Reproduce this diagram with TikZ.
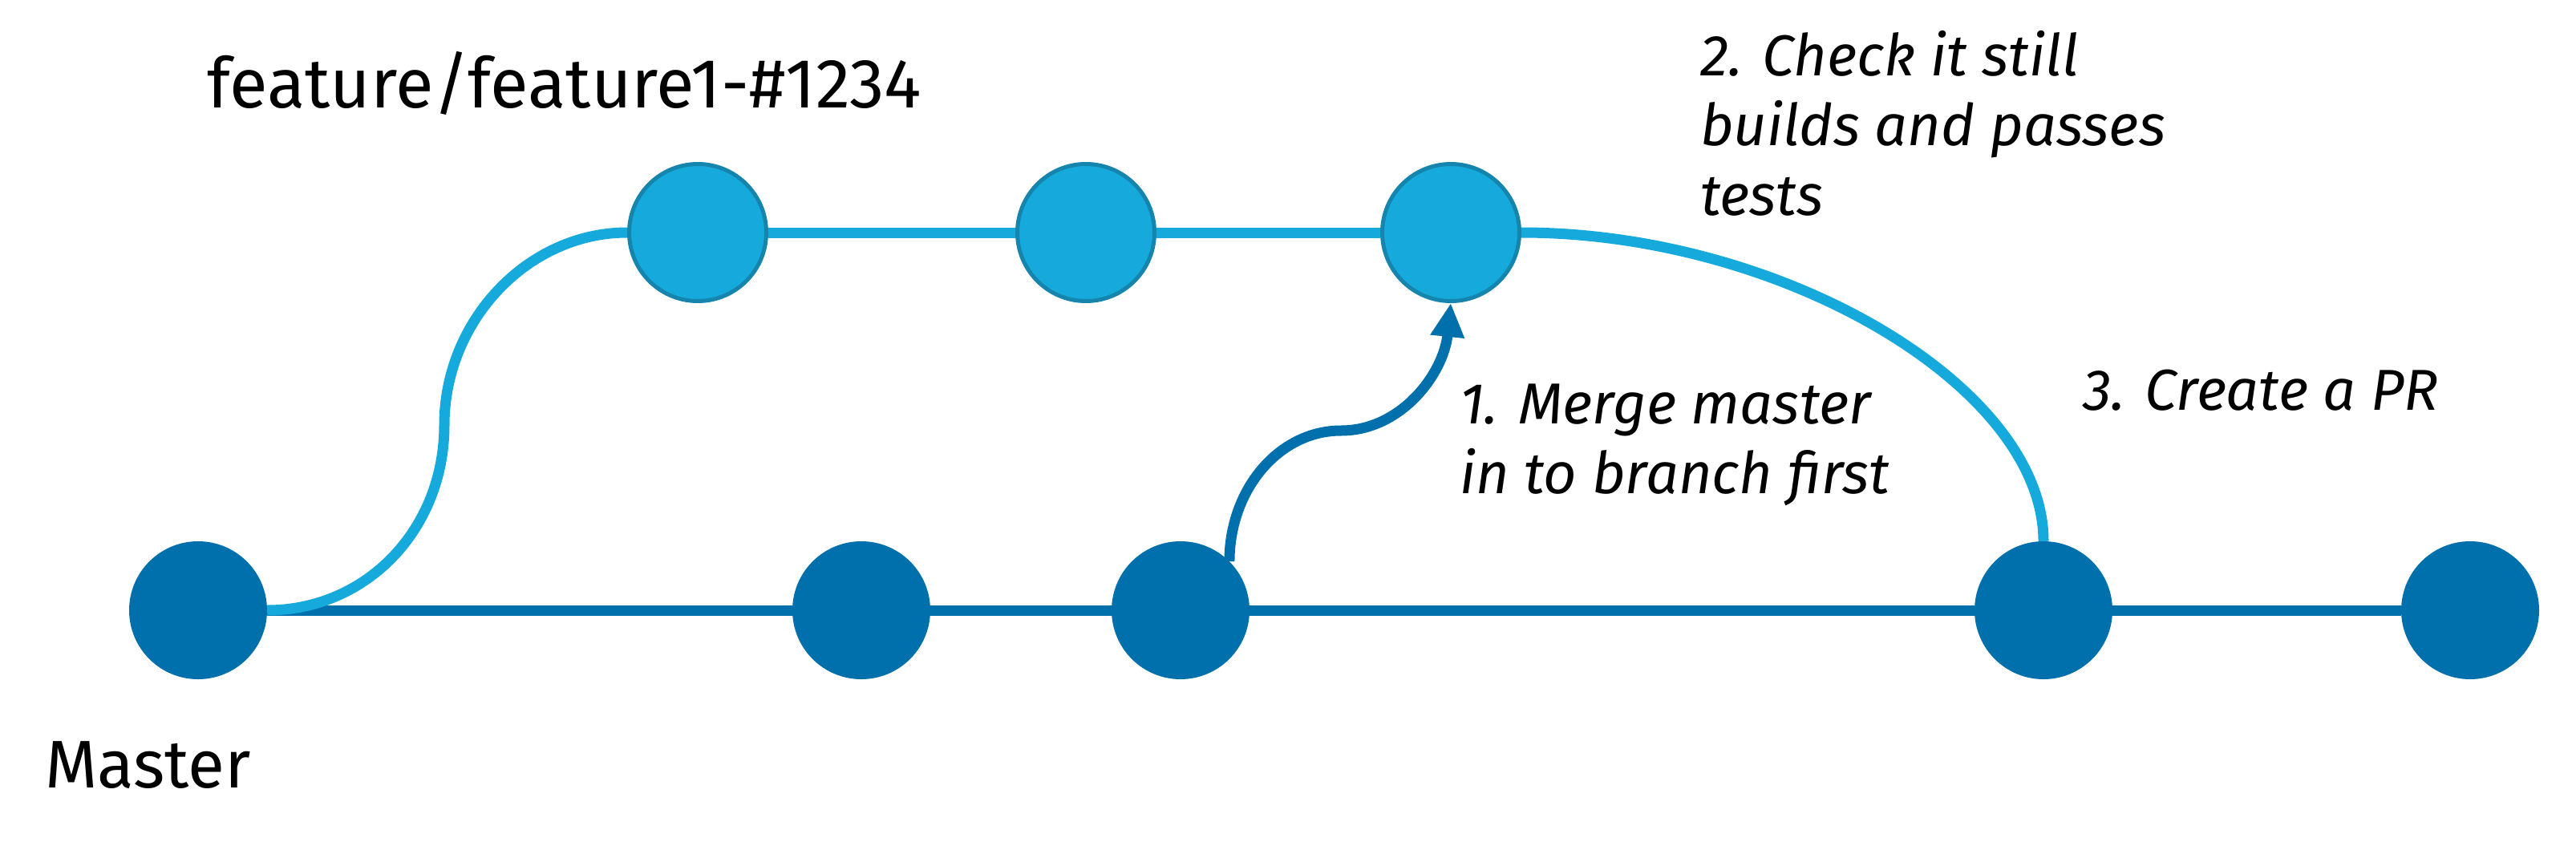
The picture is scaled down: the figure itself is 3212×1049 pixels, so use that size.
\documentclass[tikz,border=0pt]{standalone}
\usepackage{fontspec}
\setmainfont{Fira Sans}
\usetikzlibrary{arrows.meta}
\definecolor{masterblue}{HTML}{0070AD}
\definecolor{featblue}{HTML}{15AADB}
\definecolor{featedge}{HTML}{1585AE}
\pgfdeclarelayer{background}
\pgfsetlayers{background,main}
\begin{document}
\begin{tikzpicture}[x=1bp,y=1bp,
  mcommit/.style={circle,fill=masterblue,minimum size=172bp,inner sep=0pt},
  fcommit/.style={circle,fill=featblue,draw=featedge,line width=5bp,minimum size=171bp,inner sep=0pt},
  mline/.style={draw=masterblue,line width=13bp},
  fline/.style={draw=featblue,line width=13bp},
  lbl/.style={anchor=base west,inner sep=0pt,font=\fontsize{84bp}{101bp}\selectfont},
  note/.style={anchor=base west,inner sep=0pt,font=\fontsize{72bp}{87bp}\selectfont\itshape}]
\useasboundingbox (0,0) rectangle (3212,-1049);
% master commits
\node[mcommit] (m1) at (247,-761) {};
\node[mcommit] (m2) at (1074,-761) {};
\node[mcommit] (m3) at (1472,-761) {};
\node[mcommit] (m4) at (2548,-761) {};
\node[mcommit] (m5) at (3080,-761) {};
% feature commits
\node[fcommit] (f1) at (870,-290) {};
\node[fcommit] (f2) at (1354,-290) {};
\node[fcommit] (f3) at (1809,-290) {};
\begin{pgfonlayer}{background}
\draw[mline] (m1) -- (m5);
\draw[fline] (f1) -- (f3);
\draw[fline] (m1.east) .. controls (457,-761) and (554,-660) .. (554,-530)
   .. controls (554,-400) and (658,-290) .. (f1.west);
\draw[fline] (f3.east) .. controls (2222,-290) and (2548,-482) .. (m4.north);
\end{pgfonlayer}
\draw[mline,-{Triangle[length=42bp,width=40bp]}] (m3.45) .. controls (1533,-610) and (1595,-537) .. (1672,-537)
   .. controls (1747,-537) and (1800,-466) .. (f3.south);
% labels
\node[lbl,font=\fontsize{87bp}{104bp}\selectfont] (ftitle) at (258,-134) {feature/feature1-\#1234};
\node[lbl] (mtitle) at (56,-982) {Master};
\node[note] (n1) at (1820,-528) {\begin{tabular}[t]{@{}l@{}}1. Merge master\\in to branch first\end{tabular}};
\node[note] (n2) at (2120,-94) {\begin{tabular}[t]{@{}l@{}}2. Check it still\\builds and passes\\tests\end{tabular}};
\node[note] (n3) at (2597,-511) {3. Create a PR};
\end{tikzpicture}
\end{document}
